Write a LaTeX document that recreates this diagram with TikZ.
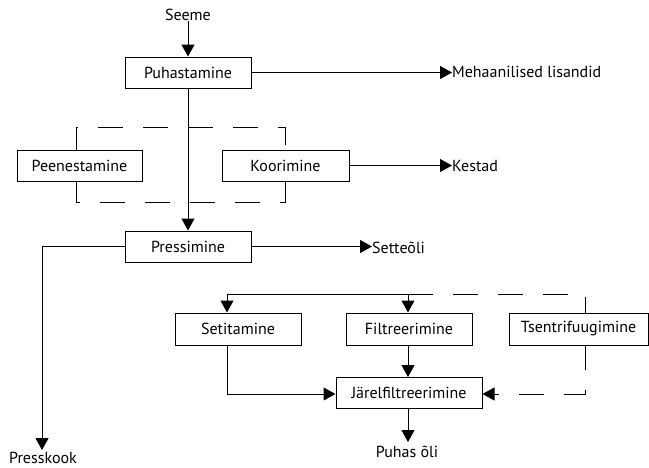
\documentclass[tikz,border=0pt]{standalone}
\usepackage{fontspec}
\setmainfont{PT Sans}
\usetikzlibrary{arrows.meta}
\begin{document}
\begin{tikzpicture}[x=1pt,y=-1pt,
  every node/.style={font=\fontsize{16}{18}\selectfont, inner sep=0pt},
  proc/.style={draw, line width=1pt, minimum height=31pt, anchor=center},
  lab/.style={},
  tip/.style={-{Triangle[width=13pt,length=12pt]}},
  flow/.style={line width=1pt, tip},
  plain/.style={line width=1pt},
  dsh/.style={line width=1pt, dash pattern=on 25pt off 20pt}]
\useasboundingbox (0,0) rectangle (649,467);

% process boxes
\node[proc, minimum width=126pt] (puh) at (188,72.5) {Puhastamine};
\node[proc, minimum width=125pt] (peen) at (79.5,165.5) {Peenestamine};
\node[proc, minimum width=127pt] (koor) at (285.5,165.5) {Koorimine};
\node[proc, minimum width=126pt] (press) at (188,246.5) {Pressimine};
\node[proc, minimum width=126pt, minimum height=32pt] (set) at (238,329) {Setitamine};
\node[proc, minimum width=126pt, minimum height=32pt] (filt) at (409,329) {Filtreerimine};
\node[proc, minimum width=139pt, minimum height=32pt] (tsen) at (578.5,329) {Tsentrifuugimine};
\node[proc, minimum width=146pt] (jarel) at (409,392.5) {Järelfiltreerimine};

% free labels
\node[lab] (seeme) at (188,15) {Seeme};
\node[lab, anchor=west] (meh) at (452,72) {Mehaanilised lisandid};
\node[lab, anchor=west] (kest) at (452,166) {Kestad};
\node[lab, anchor=west] (sette) at (372,248) {Setteõli};
\node[lab] (presskook) at (43,458) {Presskook};
\node[lab] (puhas) at (407,452) {Puhas õli};

% helper coordinates
\coordinate (c1) at (42,246.5);
\coordinate (c2) at (42,450);
\coordinate (b1) at (227,294);
\coordinate (b2) at (408,294);
\coordinate (b3) at (585,294);
\coordinate (s1) at (227,345);
\coordinate (s2) at (227,394);
\coordinate (t1) at (585,345);
\coordinate (t2) at (585,394);
\coordinate (f1) at (408,345);
\coordinate (j1) at (408,377);
\coordinate (j2) at (408,408);
\coordinate (j3) at (408,442);
\coordinate (d1) at (76,150);
\coordinate (d2) at (76,127);
\coordinate (d3) at (285,127);
\coordinate (d4) at (285,150);
\coordinate (d5) at (76,181);
\coordinate (d6) at (76,202);
\coordinate (d7) at (285,202);
\coordinate (d8) at (285,181);

% connectors
\draw[flow] (seeme.south) -- (puh.north);
\draw[flow] (puh.east) -- (meh.west |- puh.east);
\draw[flow] (puh.south) -- (press.north);
\draw[flow] (koor.east) -- (kest.west |- koor.east);
\draw[flow] (press.east) -- (sette.west |- press.east);
\draw[flow] (press.west) -- (c1) -- (c2);

\draw[dsh] (d1) -- (d2) -- (d3) -- (d4);
\draw[dsh] (d5) -- (d6) -- (d7) -- (d8);

\draw[plain] (b1) -- (b2);
\draw[dsh] (b2) -- (b3) -- (b3 |- tsen.north);
\draw[flow] (b1) -- (b1 |- set.north);
\draw[flow] (b2) -- (b2 |- filt.north);
\draw[flow] (f1) -- (j1);
\draw[flow] (s1) -- (s2) -- (s2 -| jarel.west);
\draw[dsh, tip] (t1) -- (t2) -- (t2 -| jarel.east);
\draw[flow] (j2) -- (j3);
\end{tikzpicture}
\end{document}
